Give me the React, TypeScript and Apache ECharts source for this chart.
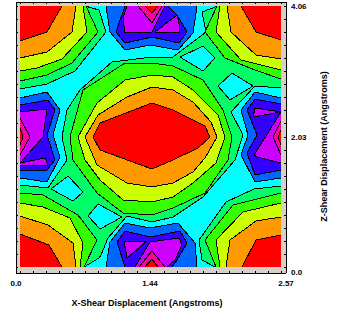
import React, { useEffect, useRef } from "react";
import * as echarts from "echarts";

type Pt = [number, number];

const xTickValues = [0, 13, 26, 39, 52, 65, 78, 91, 104, 117, 130, 144, 157, 170, 183, 196, 209, 222, 235, 248, 261];
const yTickValues = xTickValues;
const xLabelValues = [-4, 130, 266];
const yLabelValues = [-5, 130, 261];
const xLabelText: Record<number, string> = { "-4": "0.0", 130: "1.44", 266: "2.57" };
const yLabelText: Record<number, string> = { "-5": "0.0", 130: "2.03", 261: "4.06" };

const cyanBase: Pt[][] = [[[0, 0], [261, 0], [261, 261], [0, 261]]];
const spring: Pt[][] = [
  [[0, 261], [65, 261], [79, 257], [86, 235], [55, 196], [27, 183], [0, 178]],
  [[195, 0], [182, 7], [179, 27], [206, 65], [234, 78], [261, 81], [261, 0]],
  [[198, 261], [261, 261], [261, 179], [235, 181], [211, 155], [223, 132], [215, 107], [183, 70], [153, 50], [132, 45], [107, 51], [88, 29], [81, 12], [79, 9], [64, 0], [0, 0], [0, 82], [28, 79], [47, 107], [42, 130], [47, 157], [60, 177], [92, 205], [132, 210], [153, 210], [186, 235], [182, 255]],
];
const diamonds: Pt[][] = [
  [[160, 210], [183, 221], [195, 209], [183, 196]],
  [[198, 181], [212, 194], [233, 181], [210, 167]],
  [[68, 51], [78, 63], [102, 50], [80, 38]],
  [[31, 78], [48, 91], [63, 75], [53, 66]],
];
const green: Pt[][] = [
  [[0, 261], [66, 261], [78, 235], [52, 204], [27, 192], [0, 186]],
  [[197, 261], [261, 261], [261, 188], [235, 197], [205, 209], [185, 235]],
  [[0, 74], [23, 72], [58, 52], [77, 27], [64, 0], [0, 0]],
  [[196, 0], [185, 27], [213, 62], [261, 74], [261, 0]],
  [[50, 130], [63, 177], [105, 204], [132, 204], [153, 201], [183, 187], [203, 157], [212, 130], [208, 107], [185, 74], [153, 59], [132, 52], [103, 54], [77, 74], [53, 107]],
];
const lime: Pt[][] = [
  [[0, 261], [63, 261], [67, 235], [42, 208], [17, 199], [0, 196]],
  [[200, 261], [261, 261], [261, 197], [221, 207], [196, 235]],
  [[0, 64], [23, 60], [50, 49], [63, 24], [60, 0], [0, 0]],
  [[200, 0], [196, 27], [223, 55], [261, 64], [261, 0]],
  [[58, 130], [77, 164], [105, 187], [132, 192], [153, 190], [173, 177], [198, 152], [205, 130], [196, 104], [173, 84], [153, 70], [132, 65], [103, 67], [80, 87], [65, 107]],
];
const orange: Pt[][] = [
  [[0, 261], [56, 261], [52, 235], [27, 215], [0, 209]],
  [[207, 261], [261, 261], [261, 208], [236, 212], [211, 235]],
  [[0, 51], [28, 42], [53, 24], [56, 0], [0, 0]],
  [[206, 0], [210, 27], [236, 46], [261, 50], [261, 0]],
  [[65, 130], [78, 152], [107, 170], [132, 180], [153, 177], [173, 165], [191, 145], [197, 130], [185, 109], [173, 95], [153, 84], [132, 80], [107, 84], [77, 102]],
];
const highRed: Pt[][] = [
  [[0, 261], [42, 261], [27, 235], [0, 226]],
  [[221, 261], [261, 261], [261, 227], [236, 235]],
  [[0, 33], [29, 22], [42, 0], [0, 0]],
  [[222, 0], [236, 27], [261, 32], [261, 0]],
  [[73, 130], [80, 144], [132, 164], [153, 157], [185, 141], [190, 130], [178, 119], [153, 107], [132, 98], [80, 117]],
];
const azure: Pt[][] = [
  [[86, 261], [90, 235], [105, 217], [130, 222], [158, 217], [173, 234], [175, 247], [177, 261]],
  [[86, 0], [90, 25], [105, 44], [130, 39], [158, 44], [175, 24], [177, 0]],
  [[0, 169], [27, 175], [40, 157], [33, 132], [40, 110], [27, 85], [0, 89]],
  [[261, 169], [235, 175], [221, 157], [228, 132], [221, 112], [235, 85], [261, 89]],
];
const violet: Pt[][] = [
  [[105, 261], [96, 235], [105, 224], [132, 230], [159, 224], [167, 235], [157, 252], [148, 261]],
  [[105, 0], [97, 25], [105, 36], [130, 30], [160, 36], [167, 24], [157, 7], [152, 0]],
  [[0, 162], [28, 167], [35, 157], [27, 132], [35, 107], [27, 97], [0, 96]],
  [[261, 163], [235, 168], [227, 157], [237, 132], [227, 114], [235, 92], [261, 97]],
];
const purple: Pt[][] = [
  [[107, 261], [145, 261], [132, 235], [105, 234], [103, 249]],
  [[135, 235], [157, 252], [160, 239], [159, 234]],
  [[104, 26], [127, 26], [107, 9]],
  [[130, 25], [159, 29], [162, 22], [155, 7], [147, 0], [115, 0]],
  [[0, 155], [27, 158], [23, 130], [0, 104]],
  [[0, 104], [25, 109], [28, 102], [0, 102]],
  [[261, 155], [235, 159], [233, 150]],
  [[261, 155], [234, 112], [237, 110], [261, 104]],
];
const pink: Pt[][] = [
  [[118, 261], [142, 261], [132, 244]],
  [[119, 0], [132, 16], [145, 0]],
  [[0, 149], [10, 130], [0, 112]],
  [[261, 146], [253, 130], [261, 112]],
];
const lowRed: Pt[][] = [
  [[125, 261], [138, 261], [132, 254]],
  [[125, 0], [132, 8], [138, 0]],
  [[0, 139], [3, 130], [0, 122]],
  [[261, 137], [258, 130], [261, 122]],
];

const bands: [Pt[][], string][] = [
  [cyanBase, "#00ffff"],
  [spring, "#00ff66"],
  [diamonds, "#00ffff"],
  [green, "#33ff00"],
  [lime, "#ccff00"],
  [orange, "#ff9900"],
  [highRed, "#ff0000"],
  [azure, "#0066ff"],
  [violet, "#3300ff"],
  [purple, "#cc00ff"],
  [pink, "#ff0099"],
  [lowRed, "#ff0000"],
];

const onEdge = (a: Pt, b: Pt) =>
  (a[0] === b[0] && (a[0] === 0 || a[0] === 261)) || (a[1] === b[1] && (a[1] === 0 || a[1] === 261));

const bandSeries = ([polys, color]: [Pt[][], string]) => ({
  type: "custom",
  coordinateSystem: "cartesian2d",
  xAxisIndex: 0,
  yAxisIndex: 0,
  silent: true,
  clip: false,
  data: polys.map((_, i) => [i, 0]),
  renderItem: (params: any, api: any) => {
    const poly = polys[params.dataIndex];
    const pts = poly.map((p) => api.coord(p));
    const children: any[] = [
      { type: "polygon", shape: { points: pts }, style: { fill: color, stroke: null } },
    ];
    poly.forEach((p, i) => {
      const j = (i + 1) % poly.length;
      if (!onEdge(p, poly[j])) {
        children.push({
          type: "line",
          shape: { x1: pts[i][0], y1: pts[i][1], x2: pts[j][0], y2: pts[j][1] },
          style: { stroke: "#000000", lineWidth: 1 },
        });
      }
    });
    return { type: "group", children };
  },
});

const FONT = "Liberation Sans";
const axisBase = {
  type: "value",
  axisLine: { show: true, onZero: false, lineStyle: { color: "#000000", width: 1 } },
  axisTick: { show: true, inside: true, length: 2, customValues: xTickValues, lineStyle: { color: "#000000", width: 1 } },
  splitLine: { show: false },
};

export default function App() {
  const ref = useRef<HTMLDivElement>(null);
  useEffect(() => {
    const chart = echarts.init(ref.current!, undefined, { renderer: "svg" });
    chart.setOption({
      animation: false,
      backgroundColor: "#ffffff",
      grid: { left: 16, top: 2, width: 270, height: 271, show: true, backgroundColor: "#d8d0c8", borderWidth: 0 },
      xAxis: [
        {
          ...axisBase,
          min: -4,
          max: 266,
          position: "bottom",
          name: "X-Shear Displacement (Angstroms)",
          nameLocation: "middle",
          nameGap: 25,
          nameTextStyle: { fontFamily: FONT, fontWeight: "bold", fontSize: 9, color: "#000000", padding: [0, 8, 0, 0] },
          axisLabel: {
            show: true,
            margin: 6,
            customValues: xLabelValues,
            formatter: (v: number) => xLabelText[v] ?? "",
            fontFamily: FONT,
            fontSize: 8,
            fontWeight: "bold",
            color: "#000000",
            hideOverlap: false,
          },
        },
        { ...axisBase, min: -4, max: 266, position: "top", axisLabel: { show: false } },
      ],
      yAxis: [
        { ...axisBase, min: -6, max: 265, position: "left", axisTick: { ...axisBase.axisTick, customValues: yTickValues }, axisLabel: { show: false } },
        {
          ...axisBase,
          min: -6,
          max: 265,
          position: "right",
          axisTick: { ...axisBase.axisTick, customValues: yTickValues },
          name: "Z-Shear Displacement (Angstroms)",
          nameLocation: "middle",
          nameRotate: 90,
          nameGap: 33,
          nameTextStyle: { fontFamily: FONT, fontWeight: "bold", fontSize: 9, color: "#000000", padding: [0, 18, 0, 0] },
          axisLabel: {
            show: true,
            margin: 5,
            customValues: yLabelValues,
            formatter: (v: number) => yLabelText[v] ?? "",
            fontFamily: FONT,
            fontSize: 8,
            fontWeight: "bold",
            color: "#000000",
          },
        },
      ],
      series: bands.map(bandSeries),
    });
    return () => chart.dispose();
  }, []);
  return (
    <div
      ref={ref}
      style={{ position: "fixed", left: 0, top: 0, width: 347, height: 321, shapeRendering: "crispEdges" } as any}
    />
  );
}
